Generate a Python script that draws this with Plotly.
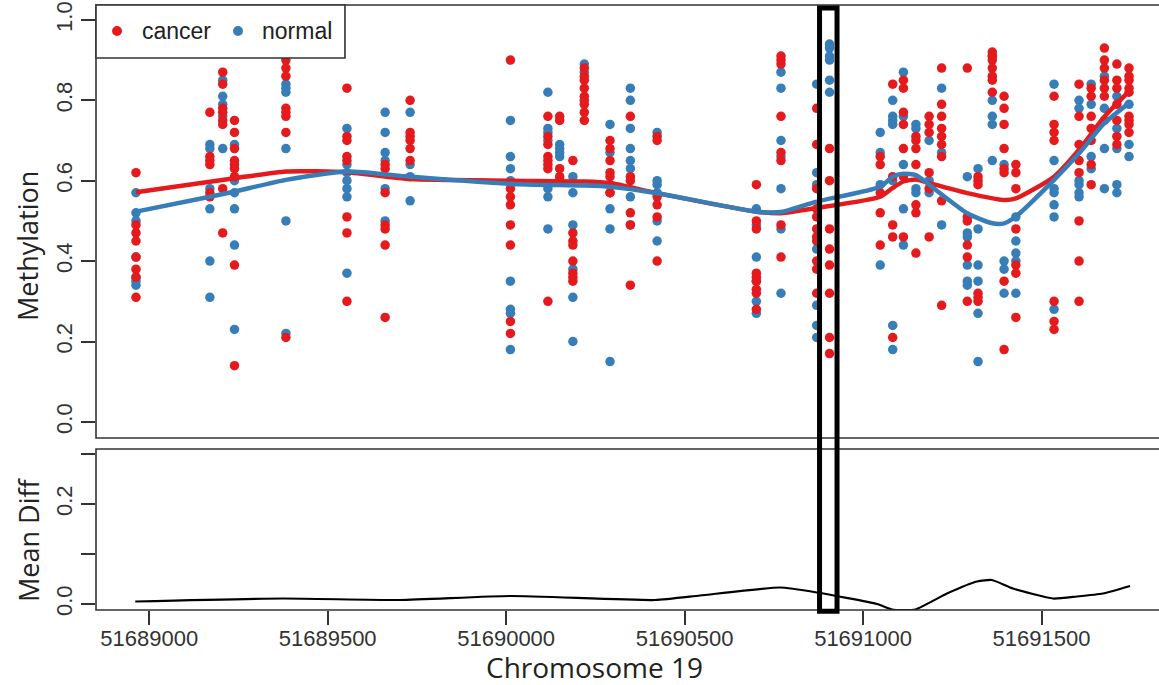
import plotly.graph_objects as go

# ---------------- data ----------------
positions = [51688963, 51689170, 51689206, 51689239, 51689383, 51689554, 51689661,
             51689731, 51690012, 51690117, 51690150, 51690187, 51690219, 51690291,
             51690348, 51690423, 51690701, 51690770, 51690870, 51690906, 51691048,
             51691083, 51691113, 51691148, 51691185, 51691220, 51691292, 51691322,
             51691362, 51691395, 51691428, 51691535, 51691605, 51691639, 51691676,
             51691711, 51691745]

cancer_vals = [
    [0.62, 0.49, 0.47, 0.45, 0.41, 0.38, 0.36, 0.31],
    [0.77, 0.66, 0.65, 0.64, 0.57, 0.56],
    [0.87, 0.84, 0.78, 0.77, 0.75, 0.74, 0.58, 0.47],
    [0.75, 0.72, 0.68, 0.65, 0.64, 0.63, 0.61, 0.39, 0.14],
    [0.90, 0.88, 0.86, 0.78, 0.77, 0.76, 0.72, 0.21],
    [0.83, 0.71, 0.70, 0.66, 0.65, 0.51, 0.47, 0.30],
    [0.64, 0.63, 0.57, 0.49, 0.48, 0.44, 0.26],
    [0.80, 0.72, 0.71, 0.70, 0.68, 0.65],
    [0.90, 0.58, 0.56, 0.54, 0.49, 0.44, 0.25, 0.22],
    [0.76, 0.71, 0.69, 0.66, 0.65, 0.64, 0.63, 0.30],
    [0.76, 0.75, 0.63, 0.61, 0.60],
    [0.65, 0.47, 0.45, 0.44, 0.40, 0.37, 0.36, 0.35],
    [0.88, 0.86, 0.85, 0.83, 0.81, 0.80, 0.79, 0.77, 0.75],
    [0.70, 0.68, 0.65, 0.62, 0.61, 0.59, 0.57, 0.57],
    [0.76, 0.61, 0.60, 0.52, 0.49, 0.34],
    [0.71, 0.70, 0.56, 0.54, 0.51, 0.40],
    [0.59, 0.50, 0.48, 0.37, 0.36, 0.35, 0.33, 0.32, 0.28],
    [0.91, 0.90, 0.89, 0.76, 0.67, 0.65, 0.49, 0.41],
    [0.78, 0.69, 0.58, 0.53, 0.51, 0.48, 0.46, 0.45, 0.40, 0.38, 0.32],
    [0.68, 0.60, 0.48, 0.43, 0.39, 0.32, 0.21, 0.17],
    [0.66, 0.64, 0.57, 0.52, 0.44],
    [0.84, 0.61, 0.49, 0.46, 0.21],
    [0.85, 0.83, 0.77, 0.74, 0.68, 0.61, 0.46],
    [0.71, 0.70, 0.68, 0.64, 0.54, 0.52, 0.42],
    [0.76, 0.74, 0.72, 0.62, 0.58, 0.46],
    [0.88, 0.79, 0.76, 0.73, 0.71, 0.69, 0.66, 0.55, 0.29],
    [0.88, 0.51, 0.50, 0.44, 0.41, 0.30],
    [0.61, 0.60, 0.59, 0.32, 0.31, 0.30],
    [0.92, 0.91, 0.91, 0.90, 0.88, 0.86, 0.85, 0.82],
    [0.81, 0.78, 0.74, 0.68, 0.63, 0.62, 0.35, 0.18],
    [0.64, 0.62, 0.58, 0.48, 0.39, 0.37, 0.26],
    [0.81, 0.74, 0.72, 0.70, 0.30, 0.25, 0.23],
    [0.84, 0.76, 0.69, 0.65, 0.62, 0.50, 0.40, 0.30],
    [0.83, 0.81, 0.76, 0.73, 0.70, 0.64, 0.59],
    [0.93, 0.90, 0.88, 0.85, 0.83, 0.81, 0.75],
    [0.89, 0.85, 0.83, 0.79, 0.75, 0.71, 0.69],
    [0.88, 0.86, 0.85, 0.83, 0.82, 0.76, 0.75, 0.74, 0.72],
]

normal_vals = [
    [0.57, 0.52, 0.50, 0.41, 0.36, 0.35, 0.34],
    [0.69, 0.68, 0.58, 0.53, 0.40, 0.31],
    [0.85, 0.81, 0.79, 0.76, 0.68],
    [0.69, 0.60, 0.57, 0.53, 0.44, 0.23],
    [0.84, 0.83, 0.82, 0.68, 0.50, 0.22],
    [0.73, 0.64, 0.62, 0.60, 0.58, 0.56, 0.37],
    [0.77, 0.72, 0.67, 0.65, 0.58, 0.50],
    [0.77, 0.64, 0.61, 0.55],
    [0.75, 0.66, 0.63, 0.60, 0.35, 0.28, 0.27, 0.18],
    [0.82, 0.73, 0.72, 0.70, 0.58, 0.56, 0.48],
    [0.69, 0.68, 0.67, 0.66],
    [0.61, 0.57, 0.49, 0.38, 0.31, 0.20],
    [0.89, 0.87],
    [0.74, 0.67, 0.53, 0.48, 0.15],
    [0.83, 0.80, 0.73, 0.68, 0.65, 0.63, 0.56, 0.49],
    [0.72, 0.60, 0.59, 0.57, 0.50, 0.45],
    [0.53, 0.49, 0.41, 0.35, 0.30, 0.27],
    [0.87, 0.83, 0.70, 0.66, 0.58, 0.48, 0.32],
    [0.84, 0.62, 0.59, 0.43, 0.29, 0.24, 0.21],
    [0.94, 0.93, 0.91, 0.90, 0.85, 0.82],
    [0.72, 0.67, 0.59, 0.39],
    [0.80, 0.76, 0.75, 0.74, 0.60, 0.24, 0.18],
    [0.87, 0.76, 0.64, 0.53, 0.44],
    [0.74, 0.73, 0.58, 0.57],
    [0.70, 0.60, 0.57],
    [0.83, 0.67, 0.49],
    [0.61, 0.47, 0.46, 0.39, 0.35, 0.34],
    [0.63, 0.48, 0.39, 0.35, 0.27, 0.15],
    [0.80, 0.76, 0.74, 0.65],
    [0.64, 0.40, 0.38, 0.32],
    [0.51, 0.45, 0.42, 0.40, 0.32],
    [0.84, 0.65, 0.58, 0.57, 0.54, 0.51, 0.28],
    [0.80, 0.78, 0.60, 0.59, 0.57, 0.56],
    [0.84, 0.79, 0.66, 0.63],
    [0.86, 0.78, 0.68, 0.58],
    [0.81, 0.73, 0.68, 0.59, 0.57],
    [0.79, 0.69, 0.66],
]

cancer_smooth_pos = [51688963, 51689239, 51689383, 51689554, 51689731, 51690012, 51690219,
                     51690291, 51690423, 51690701, 51690770, 51690870, 51691048, 51691083,
                     51691113, 51691148, 51691185, 51691292, 51691395, 51691428, 51691535,
                     51691605, 51691676, 51691745]
cancer_smooth = [0.571, 0.606, 0.623, 0.621, 0.604, 0.600, 0.598, 0.594, 0.569, 0.523,
                 0.519, 0.532, 0.560, 0.582, 0.598, 0.603, 0.594, 0.569, 0.552, 0.556,
                 0.610, 0.677, 0.759, 0.822]

normal_smooth_pos = [51688963, 51689170, 51689239, 51689383, 51689554, 51689731, 51690012,
                     51690219, 51690291, 51690423, 51690701, 51690770, 51690870, 51691048,
                     51691083, 51691113, 51691148, 51691185, 51691292, 51691362, 51691395,
                     51691428, 51691535, 51691605, 51691676, 51691745]
normal_smooth = [0.523, 0.560, 0.573, 0.602, 0.623, 0.610, 0.592, 0.588, 0.585, 0.569,
                 0.523, 0.522, 0.548, 0.585, 0.610, 0.617, 0.614, 0.590, 0.519, 0.494,
                 0.494, 0.511, 0.602, 0.668, 0.743, 0.793]

diff_pos = [51688961, 51689375, 51689703, 51690011, 51690417, 51690543, 51690767,
            51690871, 51691039, 51691081, 51691146, 51691235, 51691319, 51691361,
            51691420, 51691532, 51691599, 51691672, 51691748]
mean_diff = [0.005, 0.011, 0.008, 0.016, 0.008, 0.017, 0.033, 0.023, 0.000, -0.011,
             -0.011, 0.021, 0.045, 0.048, 0.031, 0.011, 0.015, 0.021, 0.036]

highlight = [51690878, 51690927]

x_ticks = [51689000, 51689500, 51690000, 51690500, 51691000, 51691500]
meth_ticks = [0.0, 0.2, 0.4, 0.6, 0.8, 1.0]
diff_ticks = [0.0, 0.1, 0.2, 0.3]
diff_tick_labels = ["0.0", "", "0.2", ""]

RED = "#E41A1C"
BLUE = "#377EB8"
AX = "#333333"
TICKFONT = dict(family="Liberation Sans, Arial, sans-serif", size=22, color="#333333")
TITLEFONT = dict(family="Open Sans, sans-serif", size=27, color="#222222")
XTITLEFONT = dict(family="Open Sans, sans-serif", size=28, color="#222222")

# flatten points
cx, cy, nx, ny = [], [], [], []
for p, vs in zip(positions, cancer_vals):
    cx += [p] * len(vs)
    cy += vs
for p, vs in zip(positions, normal_vals):
    nx += [p] * len(vs)
    ny += vs

fig = go.Figure()
fig.add_trace(go.Scatter(x=nx, y=ny, mode="markers", name="normal",
                         marker=dict(color=BLUE, size=9.5, line=dict(width=0)),
                         xaxis="x", yaxis="y", showlegend=False))
fig.add_trace(go.Scatter(x=cx, y=cy, mode="markers", name="cancer",
                         marker=dict(color=RED, size=9.5, line=dict(width=0)),
                         xaxis="x", yaxis="y", showlegend=False))
fig.add_trace(go.Scatter(x=cancer_smooth_pos, y=cancer_smooth, mode="lines",
                         line=dict(color=RED, width=4.5, shape="spline", smoothing=0.6),
                         xaxis="x", yaxis="y", showlegend=False))
fig.add_trace(go.Scatter(x=normal_smooth_pos, y=normal_smooth, mode="lines",
                         line=dict(color=BLUE, width=4.5, shape="spline", smoothing=0.6),
                         xaxis="x", yaxis="y", showlegend=False))
fig.add_trace(go.Scatter(x=diff_pos, y=mean_diff, mode="lines",
                         line=dict(color="black", width=2.2, shape="spline", smoothing=0.5),
                         xaxis="x2", yaxis="y2", showlegend=False))

xr = [51688851, 51691829]
top_dom = [0.2843, 1.0]
bot_dom = [0.0, 0.2661]

fig.update_layout(
    width=1159, height=685,
    margin=dict(l=96, r=0, t=5, b=75),
    paper_bgcolor="white", plot_bgcolor="white",
    showlegend=False,
    xaxis=dict(domain=[0, 1], range=xr, anchor="y", showticklabels=False, ticks="",
               showgrid=False, zeroline=False, showline=False, automargin=False),
    yaxis=dict(domain=top_dom, range=[-0.04, 1.037], anchor="x",
               tickvals=meth_ticks, ticktext=[f"{v:.1f}" for v in meth_ticks],
               ticks="outside", ticklen=14, tickwidth=1.5, tickcolor=AX,
               tickangle=-90, tickfont=TICKFONT, showgrid=False, zeroline=False,
               showline=False, automargin=False),
    xaxis2=dict(domain=[0, 1], range=xr, anchor="y2",
                tickvals=x_ticks, ticktext=[str(v) for v in x_ticks],
                ticks="outside", ticklen=14, tickwidth=1.5, tickcolor=AX,
                tickfont=TICKFONT, showgrid=False, zeroline=False, showline=False,
                automargin=False, ticklabelstandoff=-5),
    yaxis2=dict(domain=bot_dom, range=[-0.012, 0.31], anchor="x2",
                tickvals=diff_ticks, ticktext=diff_tick_labels,
                ticks="outside", ticklen=14, tickwidth=1.5, tickcolor=AX,
                tickangle=-90, tickfont=TICKFONT, showgrid=False, zeroline=False,
                showline=False, automargin=False),
)

# axis titles placed as annotations (positioned like the original)
fig.add_annotation(x=-0.064, y=0.6017, xref="paper", yref="paper", text="Methylation",
                   textangle=-90, showarrow=False, xanchor="center", yanchor="middle",
                   font=TITLEFONT)
fig.add_annotation(x=-0.064, y=0.1157, xref="paper", yref="paper", text="Mean Diff",
                   textangle=-90, showarrow=False, xanchor="center", yanchor="middle",
                   font=TITLEFONT)
fig.add_annotation(x=0.4685, y=-0.0942, xref="paper", yref="paper", text="Chromosome 19",
                   showarrow=False, xanchor="center", yanchor="middle", font=XTITLEFONT)

shapes = [
    # panel boxes (right edge runs past the page edge, as in the reference)
    dict(type="rect", xref="paper", yref="paper", x0=0, x1=1.03, y0=top_dom[0], y1=top_dom[1],
         line=dict(color=AX, width=1.6), layer="above"),
    dict(type="rect", xref="paper", yref="paper", x0=0, x1=1.03, y0=bot_dom[0], y1=bot_dom[1],
         line=dict(color=AX, width=1.6), layer="above"),
    # highlighted region
    dict(type="rect", xref="x2", yref="paper", x0=highlight[0], x1=highlight[1],
         y0=-0.002, y1=0.995, line=dict(color="black", width=5), layer="above"),
    # legend box
    dict(type="rect", xref="paper", yref="paper", x0=0, x1=0.2342, y0=0.9124, y1=1.0,
         line=dict(color=AX, width=1.6), fillcolor="white", layer="above"),
    dict(type="circle", xref="paper", yref="paper", xsizemode="pixel", ysizemode="pixel",
         xanchor=0.0198, yanchor=0.957, x0=-5, x1=5, y0=-5, y1=5,
         fillcolor=RED, line=dict(width=0), layer="above"),
    dict(type="circle", xref="paper", yref="paper", xsizemode="pixel", ysizemode="pixel",
         xanchor=0.1336, yanchor=0.957, x0=-5, x1=5, y0=-5, y1=5,
         fillcolor=BLUE, line=dict(width=0), layer="above"),
]
fig.update_layout(shapes=shapes)

legend_font = dict(family="Liberation Sans, Arial, sans-serif", size=23, color="#222222")
fig.add_annotation(x=0.0414, y=0.957, xref="paper", yref="paper", text="cancer",
                   showarrow=False, xanchor="left", yanchor="middle", font=legend_font)
fig.add_annotation(x=0.1543, y=0.957, xref="paper", yref="paper", text="normal",
                   showarrow=False, xanchor="left", yanchor="middle", font=legend_font)

fig.write_html("out.html", config={"displayModeBar": False},
               post_script="document.body.style.margin='0px';document.body.style.overflow='hidden';")
